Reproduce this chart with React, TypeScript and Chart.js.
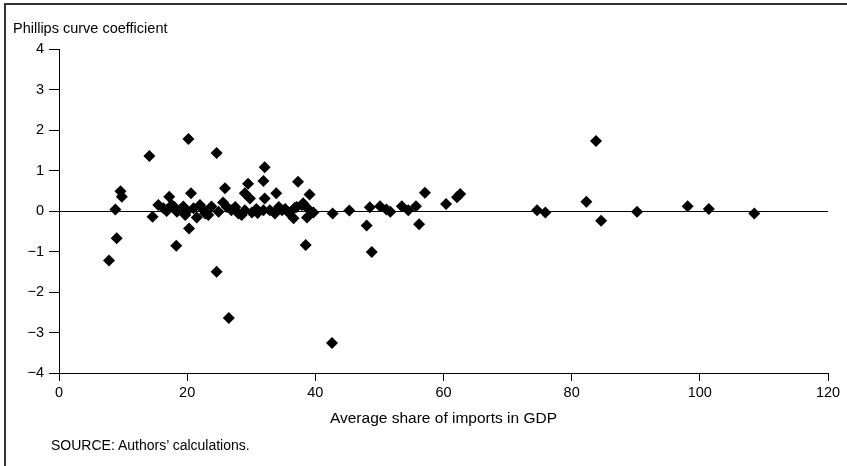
import React, { useEffect, useRef } from "react";
import { Chart, registerables } from "chart.js";

Chart.register(...registerables);

const importShare: number[] = [
  7.8, 8.8, 9.0, 9.6, 9.8, 14.1, 14.6, 15.5, 16.3, 16.8, 17.2, 17.6, 18.0, 18.3, 18.4,
  19.4, 19.7, 20.0, 20.2, 20.3, 20.6, 21.0, 21.5, 22.0, 22.4, 22.8, 23.3, 23.8, 24.6,
  24.6, 24.9, 25.6, 25.9, 26.2, 26.5, 26.9, 27.5, 28.0, 28.5, 29.0, 29.0, 29.5, 29.8,
  30.1, 30.8, 31.0, 31.9, 31.9, 32.1, 32.1, 32.9, 33.7, 33.9, 34.3, 34.8, 35.3, 35.8,
  36.6, 36.8, 37.1, 37.3, 37.9, 38.1, 38.5, 38.7, 38.9, 39.1, 39.7, 42.6, 42.7, 45.3,
  48.0, 48.5, 48.8, 50.1, 51.1, 51.7, 53.5, 54.5, 55.7, 56.2, 57.1, 60.4, 62.1, 62.6,
  74.6, 75.9, 82.3, 83.8, 84.6, 90.2, 98.1, 101.4, 108.5,
];

const phillipsCoef: number[] = [
  -1.22, 0.04, -0.67, 0.49, 0.35, 1.36, -0.14, 0.15, 0.07, 0.0, 0.35, 0.15, 0.1, -0.86, -0.02,
  0.11, -0.1, 0.0, 1.78, -0.43, 0.44, 0.07, -0.16, 0.15, 0.05, -0.06, -0.1, 0.11, 1.43,
  -1.5, -0.02, 0.21, 0.56, 0.1, -2.64, 0.02, 0.1, -0.06, -0.1, 0.44, 0.02, 0.67, 0.31,
  -0.04, 0.05, -0.05, 0.74, 0.02, 1.08, 0.31, 0.02, -0.06, 0.44, 0.1, 0.02, 0.05, -0.04,
  -0.18, 0.08, 0.1, 0.72, 0.15, 0.19, -0.84, -0.16, 0.05, 0.41, -0.04, -3.26, -0.06, 0.01,
  -0.36, 0.09, -1.01, 0.12, 0.04, -0.02, 0.12, 0.02, 0.12, -0.33, 0.45, 0.17, 0.34, 0.42,
  0.02, -0.04, 0.23, 1.73, -0.24, -0.02, 0.12, 0.05, -0.06,
];

const xTicks: number[] = [0, 20, 40, 60, 80, 100, 120];
const yTicks: number[] = [-4, -3, -2, -1, 0, 1, 2, 3, 4];

const yTitle = "Phillips curve coefficient";
const xTitle = "Average share of imports in GDP";
const sourceNote = "SOURCE: Authors\u2019 calculations.";

const FONT = "'Liberation Sans', Arial, sans-serif";

export default function App() {
  const canvasRef = useRef<HTMLCanvasElement | null>(null);

  useEffect(() => {
    if (!canvasRef.current) return;
    const points = importShare.map((x, i) => ({ x, y: phillipsCoef[i] }));
    const chart = new Chart(canvasRef.current, {
      type: "scatter",
      data: {
        datasets: [
          {
            data: points,
            pointStyle: "rectRot",
            pointRadius: 6,
            pointBorderWidth: 0,
            backgroundColor: "#000",
            borderColor: "#000",
          },
        ],
      },
      options: {
        animation: false,
        responsive: false,
        maintainAspectRatio: false,
        layout: { padding: { left: 0, top: 49, right: 19, bottom: 36 } },
        plugins: { legend: { display: false }, tooltip: { enabled: false } },
        scales: {
          x: {
            type: "linear",
            min: xTicks[0],
            max: xTicks[xTicks.length - 1],
            afterBuildTicks: (scale: any) => {
              scale.ticks = xTicks.map((v) => ({ value: v }));
            },
            afterFit: (scale: any) => {
              scale.height = 57;
            },
            ticks: {
              color: "#000",
              font: { family: FONT, size: 14.5 },
              padding: 3,
              maxRotation: 0,
            },
            grid: {
              color: "transparent",
              tickColor: "#000",
              tickLength: 8,
              lineWidth: 1,
            },
            border: { display: true, color: "#000", width: 1 },
            title: {
              display: true,
              text: xTitle,
              color: "#000",
              font: { family: FONT, size: 15.5 },
              padding: { top: 0, bottom: 2 },
            },
          },
          y: {
            type: "linear",
            min: yTicks[0],
            max: yTicks[yTicks.length - 1],
            afterBuildTicks: (scale: any) => {
              scale.ticks = yTicks.map((v) => ({ value: v }));
            },
            afterFit: (scale: any) => {
              scale.width = 59;
            },
            ticks: {
              color: "#000",
              font: { family: FONT, size: 14.5 },
              padding: 5,
              callback: (v: any) => (Number(v) < 0 ? "\u2212" + Math.abs(Number(v)) : String(v)),
            },
            grid: {
              color: (ctx: any) => (ctx.tick && ctx.tick.value === 0 ? "#000" : "transparent"),
              tickColor: "#000",
              tickLength: 10,
              lineWidth: 1,
            },
            border: { display: true, color: "#000", width: 1 },
          },
        },
      },
    });
    return () => chart.destroy();
  }, []);

  return (
    <div
      style={{
        position: "absolute",
        left: 0,
        top: 0,
        width: 847,
        height: 466,
        background: "#fff",
        overflow: "hidden",
      }}
    >
      <div
        style={{
          position: "absolute",
          left: 4,
          top: 3,
          width: 847,
          height: 470,
          borderTop: "2px solid #333",
          borderLeft: "2px solid #333",
          boxSizing: "border-box",
        }}
      />
      <canvas
        ref={canvasRef}
        width={847}
        height={466}
        style={{ position: "absolute", left: 0, top: 0, width: 847, height: 466 }}
      />
      <div
        style={{
          position: "absolute",
          left: 13,
          top: 20,
          fontFamily: FONT,
          fontSize: 14.5,
          lineHeight: "16px",
          color: "#000",
          whiteSpace: "nowrap",
        }}
      >
        {yTitle}
      </div>
      <div
        style={{
          position: "absolute",
          left: 51,
          top: 437,
          fontFamily: FONT,
          fontSize: 14,
          lineHeight: "16px",
          color: "#000",
          whiteSpace: "nowrap",
        }}
      >
        {sourceNote}
      </div>
    </div>
  );
}
